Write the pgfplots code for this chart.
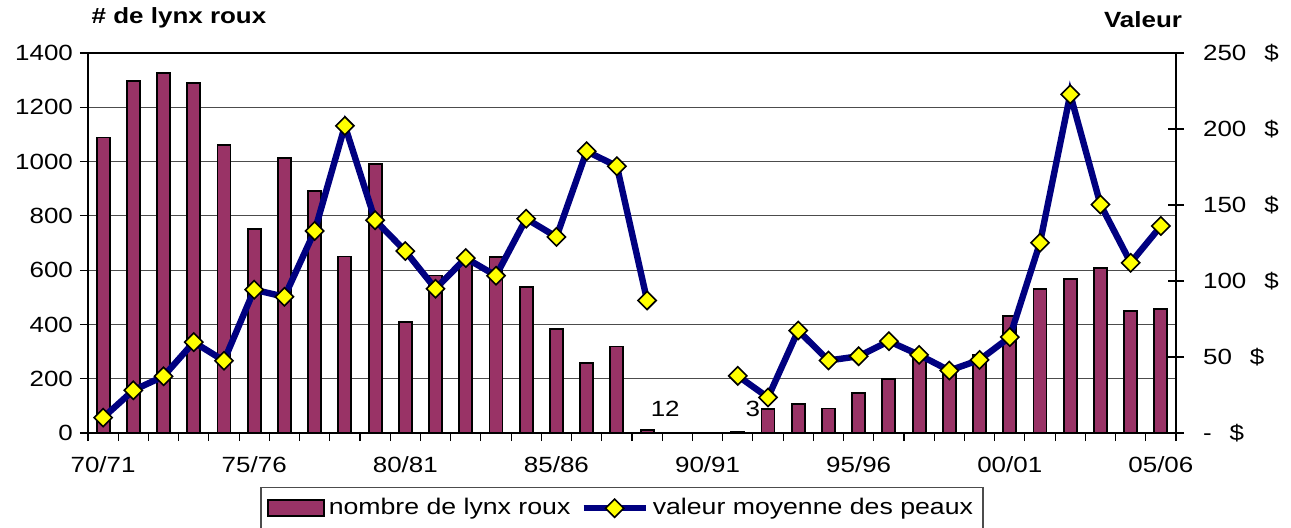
\documentclass[border=0pt]{standalone}
\usepackage{pgfplots}
\pgfplotsset{compat=1.18}
\usepackage{fontspec}
\setmainfont{Liberation Sans}[FakeStretch=1.18]
\definecolor{plum}{HTML}{993366}
\definecolor{navyb}{HTML}{000080}
\definecolor{yel}{HTML}{FFFF00}
\pgfplotsset{lineleg/.style={legend image code/.code={\draw[mark repeat=2, mark phase=2, ##1] plot coordinates {(0pt,0pt) (15.5pt,0pt) (31pt,0pt)};}}}
\begin{document}
\begin{tikzpicture}[x=1pt,y=1pt]
\useasboundingbox (0,0) rectangle (645.5,263.5);
\begin{axis}[
  at={(44pt,47pt)}, anchor=south west,
  scale only axis, width=544pt, height=190pt,
  xmin=-0.5, xmax=35.5, ymin=0, ymax=1400,
  ytick={0,200,...,1400},
  yticklabels={0,200,400,600,800,1000,1200,1400},
  ytick pos=left, xtick pos=bottom,
  tick align=outside,
  major tick length=4pt,
  xtick={-0.5,0.5,...,35.5}, xticklabels={},
  extra x ticks={0,5,...,35},
  extra x tick labels={70/71,75/76,80/81,85/86,90/91,95/96,00/01,05/06},
  extra x tick style={major tick length=0pt, xticklabel style={yshift=-8pt}},
  ymajorgrids, grid style={black!70, line width=0.6pt},
  axis line style={line width=1pt},
  tick style={black, line width=0.6pt},
  ticklabel style={font=\fontsize{11}{13}\selectfont},
  ybar, bar width=6.5pt,
]
\addplot[fill=plum, draw=black, line width=0.9pt] coordinates {
(0,1089) (1,1297) (2,1326) (3,1290) (4,1062) (5,753) (6,1014) (7,891)
(8,650) (9,992) (10,408) (11,580) (12,625) (13,649) (14,539) (15,384)
(16,257) (17,319) (18,12) (21,3) (22,87) (23,107)
(24,90) (25,148) (26,200) (27,287) (28,232) (29,286) (30,432) (31,532)
(32,566) (33,607) (34,450) (35,457)};
\node[font=\fontsize{11}{13}\selectfont] at (axis cs:18.6,88) {12};
\node[font=\fontsize{11}{13}\selectfont] at (axis cs:21.5,88) {3};
\end{axis}
\begin{axis}[
  at={(44pt,47pt)}, anchor=south west,
  scale only axis, width=544pt, height=190pt,
  xmin=-0.5, xmax=35.5, ymin=0, ymax=250,
  axis x line=none, axis y line*=right,
  ytick={0,50,...,250},
  yticklabels={-\hspace{9pt}\$,50\hspace{9pt}\$,100\hspace{9pt}\$,150\hspace{9pt}\$,200\hspace{9pt}\$,250\hspace{9pt}\$},
  tick align=center, major tick length=8pt,
  axis line style={line width=1pt},
  tick style={black, line width=0.6pt},
  yticklabel style={anchor=west, xshift=6pt, font=\fontsize{11}{13}\selectfont},
  unbounded coords=jump,
  legend style={at={(0.5,-0.142)}, anchor=north, xshift=-5pt, legend columns=2,
    draw=black!70, line width=0.6pt, font=\fontsize{11.3}{13}\selectfont,
    inner ysep=3.5pt, inner xsep=3pt,
    /tikz/every even column/.append style={column sep=3pt}},
]
\addlegendimage{legend image code/.code={\draw[fill=plum, draw=black, line width=0.9pt] (0pt,-4pt) rectangle (28pt,4pt);}}
\addlegendentry{nombre de lynx roux}
\addplot[navyb, line width=3.2pt, mark=square*, mark size=3.2pt,
  mark options={rotate=45, fill=yel, draw=black, line width=0.8pt}, lineleg]
  coordinates {
(0,10.1) (1,28.1) (2,37.3) (3,59.8) (4,47.5) (5,94.3) (6,89.6) (7,132.9)
(8,202.1) (9,140) (10,119.7) (11,94.9) (12,115.1) (13,103.5) (14,141) (15,129)
(16,185.4) (17,175.5) (18,87.2) (19,nan) (20,nan) (21,37.6) (22,23.4) (23,67.4)
(24,47.7) (25,50.5) (26,60.4) (27,51.4) (28,41.1) (29,48.1) (30,63.1) (31,125.2)
(32,222.8) (33,150.3) (34,112) (35,136.2)};
\addlegendentry{valeur moyenne des peaux}
\end{axis}
\node[font=\fontsize{11}{13}\selectfont\bfseries] at (89.5,254.5) {\# de lynx roux};
\node[font=\fontsize{11}{13}\selectfont\bfseries] at (571.5,253.5) {Valeur};
\end{tikzpicture}
\end{document}
